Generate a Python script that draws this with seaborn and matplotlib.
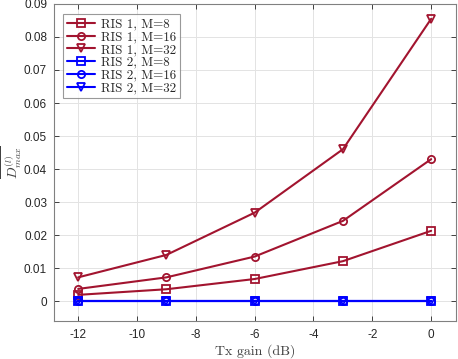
import matplotlib
matplotlib.use("Agg")
import matplotlib.pyplot as plt
import seaborn as sns
import pandas as pd

tx_gain = [-12, -9, -6, -3, 0]
ris1_m8 = [0.0019, 0.0036, 0.0067, 0.0121, 0.0213]
ris1_m16 = [0.0037, 0.0072, 0.0135, 0.0243, 0.0430]
ris1_m32 = [0.0072, 0.0140, 0.0268, 0.0460, 0.0855]
ris2_m8 = [0.0, 0.0, 0.0, 0.0, 0.0]
ris2_m16 = [0.0, 0.0, 0.0, 0.0, 0.0]
ris2_m32 = [0.0, 0.0, 0.0, 0.0, 0.0]

labels = ["RIS 1, M=8", "RIS 1, M=16", "RIS 1, M=32",
          "RIS 2, M=8", "RIS 2, M=16", "RIS 2, M=32"]
series = [ris1_m8, ris1_m16, ris1_m32, ris2_m8, ris2_m16, ris2_m32]

sns.set_theme(style="ticks")
plt.rcParams["font.family"] = ["Liberation Sans", "DejaVu Sans"]
plt.rcParams["mathtext.fontset"] = "cm"

red = "#A2142F"
blue = "#0000FF"
colors = [red, red, red, blue, blue, blue]
markers = ["s", "o", "v", "s", "o", "v"]
serif = ["cmr10", "DejaVu Serif"]

fig = plt.figure(figsize=(4.58, 3.59), dpi=100)
ax = fig.add_axes([0.118, 0.106, 0.878, 0.883])

for lab, vals, c, m in zip(labels, series, colors, markers):
    df = pd.DataFrame({"x": tx_gain, "y": vals})
    sns.lineplot(data=df, x="x", y="y", ax=ax, color=c, marker=m,
                 markersize=5.2, markerfacecolor="none", markeredgecolor=c,
                 markeredgewidth=1.3, linewidth=1.5, label=lab)

ax.set_xlim(-12.82, 0.85)
ax.set_ylim(-0.006, 0.09)
ax.set_xticks([-12, -10, -8, -6, -4, -2, 0])
ax.set_yticks([0, 0.01, 0.02, 0.03, 0.04, 0.05, 0.06, 0.07, 0.08, 0.09])
ax.set_xticklabels(["-12", "-10", "-8", "-6", "-4", "-2", "0"])
ax.set_yticklabels(["0", "0.01", "0.02", "0.03", "0.04", "0.05", "0.06",
                    "0.07", "0.08", "0.09"])
ax.tick_params(axis="both", labelsize=8.5, colors="#262626", direction="in",
               length=3.5, width=0.6, top=True, right=True, pad=5)
ax.tick_params(axis="x", pad=5.5)
ax.grid(True, color="#e3e3e3", linewidth=0.7)
for s in ax.spines.values():
    s.set_visible(True)
    s.set_color("#808080")
    s.set_linewidth(0.8)

ax.set_xlabel("Tx gain (dB)", fontsize=10, color="#404040", family=serif)
ax.xaxis.set_label_coords(0.5, -0.072)
ax.set_ylabel(r"$\overline{D_{max}^{(l)}}$", fontsize=10, color="#404040")
ax.yaxis.set_label_coords(-0.074, 0.5)

leg = ax.legend(loc="upper left", bbox_to_anchor=(0.023, 0.967),
                prop={"family": serif, "size": 9.4}, frameon=True,
                fancybox=False, edgecolor="#808080", handlelength=2.1,
                borderpad=0.3, labelspacing=0.05, handletextpad=0.5,
                borderaxespad=0)
leg.get_frame().set_linewidth(0.8)

fig.savefig("out.png", dpi=100)
